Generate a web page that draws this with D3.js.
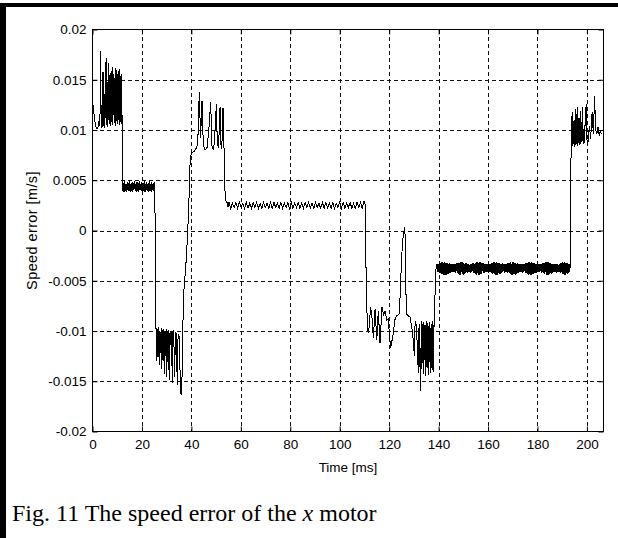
<!DOCTYPE html>
<html>
<head>
<meta charset="utf-8">
<script src="https://cdn.jsdelivr.net/npm/d3@7"></script>
<style>
  html, body { margin: 0; padding: 0; background: #fff; }
  svg { display: block; }
</style>
</head>
<body>
<div id="chart"></div>
<script>
// axis ticks
const xTicks = [0, 20, 40, 60, 80, 100, 120, 140, 160, 180, 200];
const yTicks = [-0.02, -0.015, -0.01, -0.005, 0, 0.005, 0.01, 0.015, 0.02];
const yTickLabels = ["-0.02", "-0.015", "-0.01", "-0.005", "0", "0.005", "0.01", "0.015", "0.02"];

// speed error, values in 1e-3 m/s
// evenly sampled stretches: start time [ms], step [ms], values
const startBurstT0 = 0, startBurstDt = 0.25;
const startBurst = [
  12.8, 12.4, 11.9, 11.3, 10.8, 10.4, 10.2, 10.1, 10.1, 10.3,
  10.6, 11.2, 10.4, 17.9, 10.2, 12.5, 10.3, 15.8, 10.4, 13.6,
  10.2, 14.2, 17.2, 10.5, 14.8, 10.3, 16.7, 10.6, 15.5, 10.4,
  15.9, 10.8, 16.3, 10.5, 15.6, 10.7, 15.2, 10.4, 16.2, 10.9,
  15.6, 10.6, 15.9, 10.5, 16.1, 10.8, 15.4, 10.6
];
const firstDrop = [[11.9, 15.6], [12.0, 4.8]];

const bandBT0 = 12.25, bandBDt = 0.25;
const bandB = [
  3.9, 4.7, 3.8, 4.9, 3.9, 4.6, 3.8, 4.8, 4.0, 4.7,
  3.9, 4.9, 3.8, 4.6, 3.9, 4.8, 3.8, 4.7, 4.0, 4.9,
  3.9, 4.6, 3.8, 4.8, 3.9, 4.7, 3.8, 4.9, 4.0, 4.6,
  3.9, 4.8, 3.8, 4.7, 3.9, 4.9, 3.8, 4.6, 4.0, 4.8,
  3.9, 4.7, 3.8, 4.9, 3.9, 4.6, 3.8, 4.8, 4.0, 4.7,
  3.9, 4.8, 4.4
];
const secondDrop = [[25.4, -8.0], [25.6, -9.8]];

const burstCT0 = 25.75, burstCDt = 0.25;
const burstC = [
  -9.7, -13.0, -9.8, -12.6, -9.6, -13.4, -10.0, -12.2, -9.7, -13.8,
  -9.9, -12.9, -9.8, -14.3, -10.1, -12.5, -9.8, -14.6, -10.0, -13.1,
  -9.9, -14.9, -10.2, -11.4, -10.0, -10.3, -15.2, -10.1, -10.0, -11.8,
  -14.6, -10.3, -10.1, -10.6, -15.4, -11.0, -10.4, -10.5, -12.5, -14.8,
  -16.2
];
const riseAndPeaks = [
  [36.1, -16.3], [36.4, -11.5], [36.8, -6.5], [37.4, -4.6], [38.0, -2.6], [38.6, 0.4],
  [39.1, 3.6], [39.5, 7.0], [40.0, 7.7], [41.2, 7.9], [42.2, 8.3], [42.6, 8.9],
  [43.2, 13.8], [43.7, 9.2], [44.3, 12.9], [44.8, 8.6], [45.5, 8.0], [46.4, 8.3],
  [47.2, 10.5], [47.8, 12.8], [48.3, 8.4], [49.0, 8.0], [49.6, 10.0], [50.1, 12.6],
  [50.5, 8.5], [51.0, 8.3], [51.6, 12.3], [52.0, 8.4], [52.3, 8.1], [52.8, 12.2],
  [53.2, 8.2], [53.5, 4.5], [53.8, 3.0], [54.4, 2.8], [54.8, 2.3]
];

const plateauT0 = 55.2, plateauDt = 0.7;
const plateau = [
  2.8, 2.2, 2.7, 2.3, 2.8, 2.2, 2.8, 2.3, 2.7, 2.2,
  2.8, 2.2, 2.7, 2.2, 2.8, 2.3, 2.8, 2.2, 2.7, 2.2,
  2.8, 2.3, 2.7, 2.2, 2.8, 2.2, 2.8, 2.3, 2.7, 2.2,
  2.8, 2.2, 2.7, 2.3, 2.8, 2.2, 2.8, 2.2, 2.7, 2.3,
  2.8, 2.2, 2.7, 2.2, 2.8, 2.3, 2.8, 2.2, 2.7, 2.2,
  2.8, 2.3, 2.7, 2.2, 2.8, 2.2, 2.8, 2.3, 2.7, 2.2,
  2.8, 2.2, 2.7, 2.3, 2.8, 2.2, 2.8, 2.2, 2.7, 2.3,
  2.8, 2.2, 2.7, 2.2, 2.8, 2.3, 2.8, 2.2, 2.9
];
const dipsD = [
  [110.3, 2.6], [110.6, -3.3], [111.0, -8.0], [111.4, -10.0], [111.7, -10.2], [112.5, -7.6],
  [113.2, -9.0], [113.6, -10.7], [114.3, -7.8], [115.0, -10.9], [115.6, -8.0], [116.3, -11.2],
  [117.1, -7.6], [117.7, -8.4], [118.3, -8.0], [119.0, -8.9], [119.6, -8.8], [120.6, -11.7],
  [121.7, -10.2], [122.3, -8.9], [123.0, -8.5], [124.1, -8.3], [124.6, -5.5], [125.0, -3.0],
  [125.4, -1.2], [125.8, -0.3], [126.3, 0.3], [126.6, -1.5], [126.9, -8.3], [127.8, -8.5],
  [128.4, -8.6], [129.1, -9.5], [129.6, -10.5], [130.2, -12.5], [130.5, -9.0], [130.9, -9.3],
  [131.3, -11.0], [131.8, -14.2], [132.1, -9.3], [132.7, -16.0]
];
const burstDT0 = 133.0, burstDDt = 0.25;
const burstD = [
  -9.0, -13.8, -9.3, -14.3, -9.1, -12.9, -9.4, -14.5, -9.0, -13.6,
  -9.2, -14.4, -9.5, -13.1, -9.1, -14.2, -9.3, -13.7, -9.0, -14.1,
  -9.4
];
const thirdRise = [[138.3, -9.6], [138.6, -5.7], [139.0, -3.6]];

const bandET0 = 139.25, bandEDt = 0.25;
const bandE = [
  -3.3, -4.1, -3.3, -4.1, -3.2, -4.2, -3.2, -4.3, -3.1, -4.3, -3.1, -4.4, -3.1, -4.4,
  -3.2, -4.4, -3.2, -4.3, -3.2, -4.3, -3.2, -4.2, -3.3, -4.2, -3.3, -4.1, -3.3, -4.1,
  -3.3, -4.1, -3.3, -4.2, -3.2, -4.2, -3.2, -4.3, -3.2, -4.4, -3.1, -4.4, -3.1, -4.3,
  -3.1, -4.4, -3.2, -4.3, -3.2, -4.2, -3.2, -4.2, -3.3, -4.1, -3.3, -4.1, -3.3, -4.2,
  -3.3, -4.1, -3.2, -4.2, -3.2, -4.2, -3.2, -4.3, -3.1, -4.4, -3.1, -4.4, -3.2, -4.4,
  -3.1, -4.3, -3.2, -4.3, -3.2, -4.2, -3.2, -4.2, -3.3, -4.1, -3.3, -4.1, -3.3, -4.2,
  -3.3, -4.1, -3.3, -4.1, -3.2, -4.2, -3.2, -4.3, -3.1, -4.3, -3.1, -4.4, -3.1, -4.4,
  -3.2, -4.4, -3.2, -4.3, -3.2, -4.3, -3.3, -4.2, -3.2, -4.1, -3.3, -4.2, -3.3, -4.1,
  -3.3, -4.1, -3.2, -4.2, -3.2, -4.2, -3.2, -4.3, -3.1, -4.4, -3.1, -4.4, -3.1, -4.3,
  -3.2, -4.4, -3.2, -4.3, -3.2, -4.2, -3.3, -4.2, -3.3, -4.1, -3.3, -4.1, -3.3, -4.2,
  -3.3, -4.1, -3.3, -4.2, -3.2, -4.2, -3.2, -4.3, -3.1, -4.4, -3.1, -4.4, -3.2, -4.4,
  -3.1, -4.3, -3.2, -4.3, -3.2, -4.2, -3.3, -4.2, -3.3, -4.1, -3.3, -4.1, -3.3, -4.1,
  -3.3, -4.2, -3.3, -4.1, -3.2, -4.2, -3.2, -4.3, -3.1, -4.4, -3.1, -4.4, -3.1, -4.4,
  -3.2, -4.3, -3.2, -4.3, -3.3, -4.2, -3.3, -4.1, -3.3, -4.1, -3.3, -4.2, -3.3, -4.1,
  -3.3, -4.1, -3.3, -4.1, -3.2, -4.2, -3.2, -4.3, -3.1, -4.3, -3.1, -4.4, -3.2, -4.4,
  -3.2, -4.3, -3.2, -4.2, -3.3, -4.1, -3.3
];
const fourthRise = [[193.4, -3.7], [193.5, 6.8], [193.7, 8.3]];

const burstFT0 = 193.75, burstFDt = 0.25;
const burstF = [
  11.4, 8.4, 11.8, 8.6, 10.9, 8.3, 12.1, 8.5, 11.6, 8.4,
  12.3, 8.7, 11.2, 8.5, 11.9, 8.6, 10.8, 8.8, 12.3, 9.0
];
const tailF = [
  [198.8, 8.6], [199.3, 10.8], [199.7, 12.6], [200.0, 9.0], [200.4, 8.7], [201.0, 10.4],
  [201.5, 9.1], [202.1, 11.8], [202.6, 9.6], [203.1, 13.4], [203.5, 10.0], [204.0, 9.6],
  [204.5, 10.3], [205.0, 9.4], [205.4, 9.9], [205.8, 9.6]
];

// turn a sampled stretch into [t, v] pairs
function sampled(t0, dt, vals) {
  return vals.map((v, i) => [t0 + i * dt, v]);
}

const signal = [].concat(
  sampled(startBurstT0, startBurstDt, startBurst),
  firstDrop,
  sampled(bandBT0, bandBDt, bandB),
  secondDrop,
  sampled(burstCT0, burstCDt, burstC),
  riseAndPeaks,
  sampled(plateauT0, plateauDt, plateau),
  dipsD,
  sampled(burstDT0, burstDDt, burstD),
  thirdRise,
  sampled(bandET0, bandEDt, bandE),
  fourthRise,
  sampled(burstFT0, burstFDt, burstF),
  tailF
);

var width = 618;
var height = 538;
var plot = { left: 92.5, top: 29.5, right: 603.5, bottom: 431.5 };
var tickFont = "'Liberation Sans', Arial, sans-serif";

var svg = d3.select("#chart")
  .append("svg")
  .attr("width", width)
  .attr("height", height);

// thick frame on the top and left of the figure
svg.append("rect").attr("x", 0).attr("y", 3).attr("width", width).attr("height", 4).attr("fill", "#000");
svg.append("rect").attr("x", 0).attr("y", 3).attr("width", 6).attr("height", height - 3).attr("fill", "#000");

var x = d3.scaleLinear()
  .domain([0, 206.7])
  .range([plot.left, plot.right]);

var y = d3.scaleLinear()
  .domain([-0.02, 0.02])
  .range([plot.bottom, plot.top]);

// dashed grid
var grid = svg.append("g")
  .attr("stroke", "#111")
  .attr("stroke-width", 1)
  .attr("stroke-dasharray", "4,3")
  .attr("shape-rendering", "crispEdges");

grid.selectAll(".gx")
  .data(xTicks.filter(d => d > 0))
  .enter()
  .append("line")
  .attr("x1", d => Math.round(x(d)) + 0.5)
  .attr("x2", d => Math.round(x(d)) + 0.5)
  .attr("y1", plot.top)
  .attr("y2", plot.bottom);

grid.selectAll(".gy")
  .data(yTicks.filter(d => d > -0.02 && d < 0.02))
  .enter()
  .append("line")
  .attr("y1", d => Math.round(y(d)) + 0.5)
  .attr("y2", d => Math.round(y(d)) + 0.5)
  .attr("x1", plot.left)
  .attr("x2", plot.right);

// signal
svg.append("clipPath").attr("id", "clip")
  .append("rect")
  .attr("x", plot.left).attr("y", plot.top)
  .attr("width", plot.right - plot.left).attr("height", plot.bottom - plot.top);

var line = d3.line()
  .x(d => x(d[0]))
  .y(d => y(d[1] / 1000));

svg.append("path")
  .datum(signal)
  .attr("clip-path", "url(#clip)")
  .attr("fill", "none")
  .attr("stroke", "#000")
  .attr("stroke-width", 1)
  .attr("stroke-linejoin", "miter")
  .attr("shape-rendering", "crispEdges")
  .attr("d", line);

// axes with inward ticks
var xAxis = svg.append("g")
  .attr("transform", "translate(0," + plot.bottom + ")")
  .call(d3.axisBottom(x).tickValues(xTicks).tickSize(-5).tickPadding(8));

var yAxis = svg.append("g")
  .attr("transform", "translate(" + plot.left + ",0)")
  .call(d3.axisLeft(y).tickValues(yTicks)
    .tickFormat((d, i) => yTickLabels[i]).tickSize(-5).tickPadding(6));

svg.append("g")
  .attr("transform", "translate(0," + plot.top + ")")
  .call(d3.axisTop(x).tickValues(xTicks).tickSize(-5).tickFormat(""));

svg.append("g")
  .attr("transform", "translate(" + plot.right + ",0)")
  .call(d3.axisRight(y).tickValues(yTicks).tickSize(-5).tickFormat(""));

svg.selectAll(".domain").remove();
svg.selectAll(".tick line").attr("stroke", "#000");
svg.selectAll(".tick text")
  .attr("fill", "#000")
  .style("font-family", tickFont)
  .style("font-size", "13.5px");

// box
svg.append("rect")
  .attr("x", plot.left).attr("y", plot.top)
  .attr("width", plot.right - plot.left).attr("height", plot.bottom - plot.top)
  .attr("fill", "none")
  .attr("stroke", "#000")
  .attr("stroke-width", 1);

// axis titles
svg.append("text")
  .attr("x", (plot.left + plot.right) / 2)
  .attr("y", 472)
  .attr("text-anchor", "middle")
  .style("font-family", tickFont)
  .style("font-size", "13.5px")
  .text("Time [ms]");

svg.append("text")
  .attr("transform", "translate(37," + (plot.top + plot.bottom) / 2 + ") rotate(-90)")
  .attr("text-anchor", "middle")
  .style("font-family", tickFont)
  .style("font-size", "14.5px")
  .style("letter-spacing", "0.4px")
  .text("Speed error [m/s]");

// caption
var caption = svg.append("text")
  .attr("x", 12)
  .attr("y", 521)
  .style("font-family", "'Liberation Serif', 'Times New Roman', serif")
  .style("font-size", "24px")
  .attr("fill", "#000");
caption.append("tspan").text("Fig. 11 The speed error of the ");
caption.append("tspan").style("font-style", "italic").text("x");
caption.append("tspan").text(" motor");
</script>
</body>
</html>
